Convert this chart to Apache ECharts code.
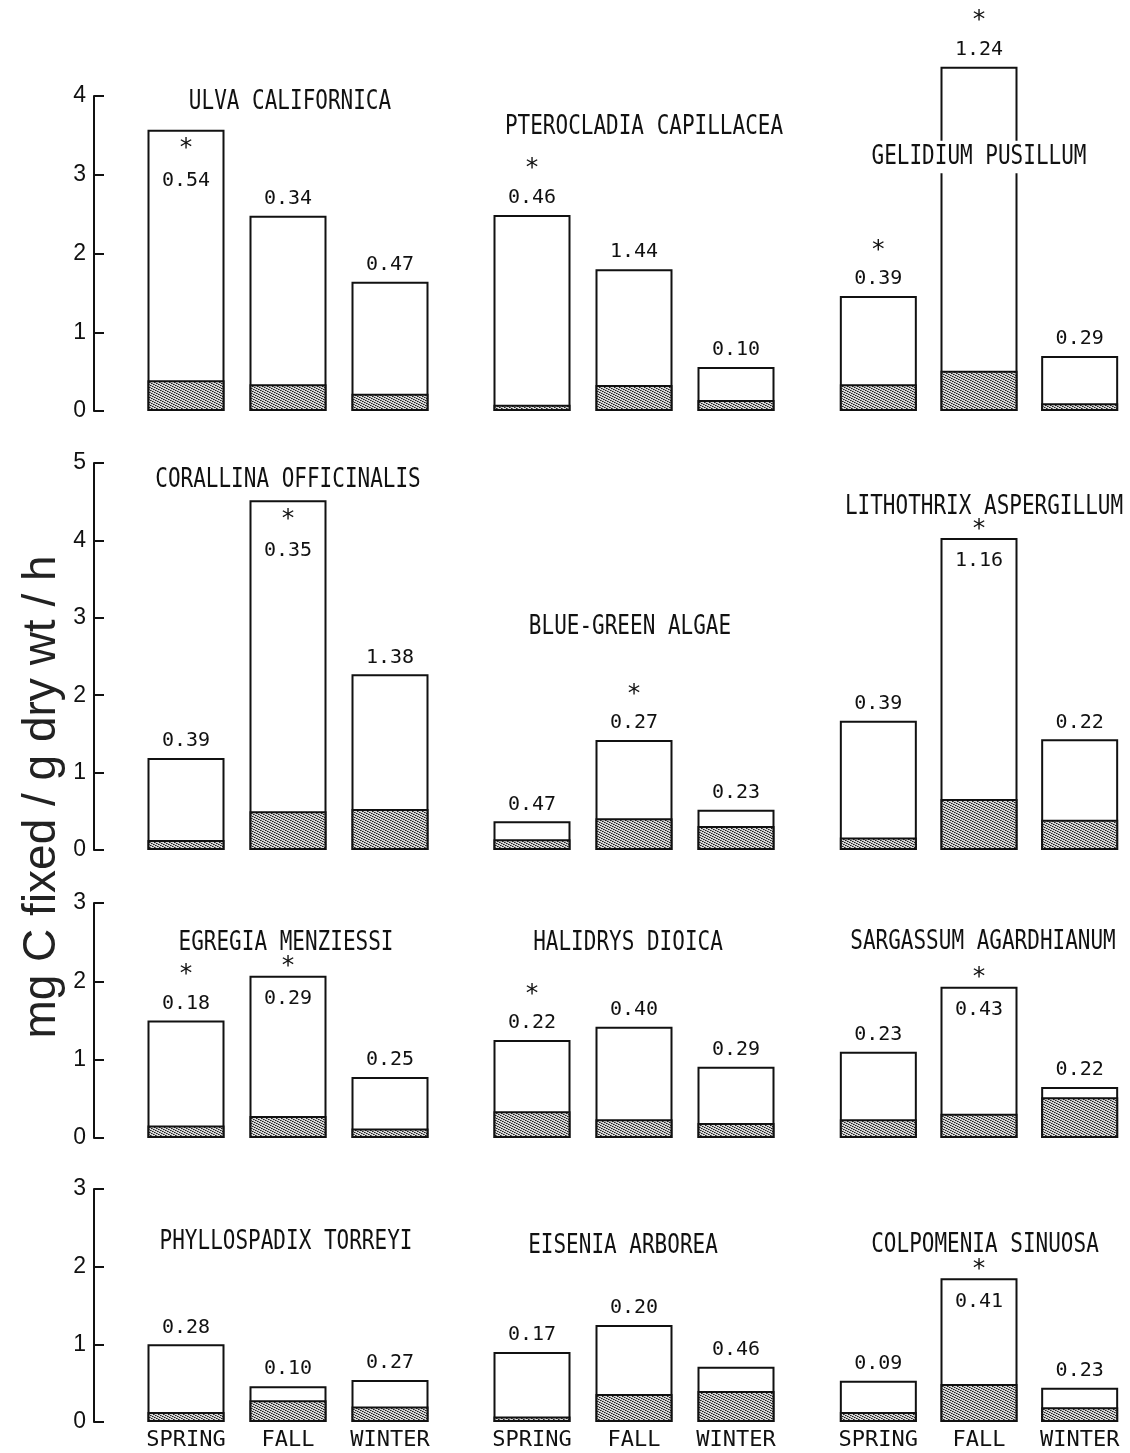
<!DOCTYPE html>
<html><head><meta charset="utf-8">
<script src="https://cdn.jsdelivr.net/npm/echarts@6/dist/echarts.min.js"></script>
<style>html,body{margin:0;padding:0;background:#fff}#c{width:1130px;height:1453px}</style>
</head><body><div id="c"></div>
<script>
// ---------- data ----------
const seasons = ['SPRING', 'FALL', 'WINTER'];
const species = ['ULVA CALIFORNICA', 'PTEROCLADIA CAPILLACEA', 'GELIDIUM PUSILLUM',
  'CORALLINA OFFICINALIS', 'BLUE-GREEN ALGAE', 'LITHOTHRIX ASPERGILLUM',
  'EGREGIA MENZIESSI', 'HALIDRYS DIOICA', 'SARGASSUM AGARDHIANUM',
  'PHYLLOSPADIX TORREYI', 'EISENIA ARBOREA', 'COLPOMENIA SINUOSA'];
const totalRate = [
  [3.57, 2.48, 1.64], [2.49, 1.80, 0.56], [1.46, 4.37, 0.70],
  [1.19, 4.52, 2.27], [0.37, 1.42, 0.52], [1.67, 4.03, 1.43],
  [1.50, 2.07, 0.78], [1.25, 1.42, 0.91], [1.10, 1.93, 0.65],
  [1.00, 0.46, 0.54], [0.90, 1.25, 0.71], [0.53, 1.85, 0.44]
];
const darkRate = [
  [0.39, 0.34, 0.22], [0.08, 0.33, 0.14], [0.34, 0.51, 0.10],
  [0.13, 0.50, 0.53], [0.14, 0.41, 0.31], [0.16, 0.66, 0.39],
  [0.16, 0.28, 0.12], [0.34, 0.24, 0.19], [0.24, 0.31, 0.52],
  [0.13, 0.28, 0.20], [0.07, 0.36, 0.40], [0.13, 0.49, 0.19]
];
const ratioLabels = [
  ['0.54', '0.34', '0.47'], ['0.46', '1.44', '0.10'], ['0.39', '1.24', '0.29'],
  ['0.39', '0.35', '1.38'], ['0.47', '0.27', '0.23'], ['0.39', '1.16', '0.22'],
  ['0.18', '0.29', '0.25'], ['0.22', '0.40', '0.29'], ['0.23', '0.43', '0.22'],
  ['0.28', '0.10', '0.27'], ['0.17', '0.20', '0.46'], ['0.09', '0.41', '0.23']
];
const significant = [
  [1, 0, 0], [1, 0, 0], [1, 1, 0],
  [0, 1, 0], [0, 1, 0], [0, 1, 0],
  [1, 1, 0], [1, 0, 0], [0, 1, 0],
  [0, 0, 0], [0, 0, 0], [0, 1, 0]
];
const rowMax = [4, 5, 3, 3];
const yTitle = 'mg C fixed / g dry wt / h';

// ---------- layout / style ----------
const rowTop = [96, 463, 903, 1189];
const rowZero = [411, 850, 1138, 1422];
const colLeft = [135, 481, 828];
const colWidth = 306;
const titlePos = [[290, 102], [644, 127], [979, 157], [288, 480], [630, 627], [984, 507],
  [286, 943], [628, 943], [983, 942], [286, 1242], [623, 1246], [985, 1245]];
const labelMode = { '0-0': 'in', '3-1': 'in', '5-1': 'str', '6-1': 'str', '8-1': 'str', '11-1': 'str' };
const INK = '#111';
const MONO = '"DejaVu Sans Mono", "Liberation Mono", monospace';
const SANS = '"Liberation Sans", Arial, sans-serif';

// stipple pattern
const tile = document.createElement('canvas');
tile.width = 5; tile.height = 5;
(function () {
  const ctx = tile.getContext('2d');
  ctx.fillStyle = '#d6d6d6'; ctx.fillRect(0, 0, 5, 5);
  ctx.fillStyle = '#222';
  [[0, 0], [2, 1], [4, 2], [1, 3], [3, 4]].forEach(p => ctx.fillRect(p[0], p[1], 1, 1));
  ctx.fillStyle = '#6a6a6a';
  [[1, 0], [3, 1], [0, 2], [2, 3], [4, 4]].forEach(p => ctx.fillRect(p[0], p[1], 1, 1));
})();
const stipple = { image: tile, repeat: 'repeat' };

function labelFor(i, j) {
  const mode = labelMode[i + '-' + j] || 'top';
  const txt = (significant[i][j] ? '{s|*}\n' : '') + '{n|' + ratioLabels[i][j] + '}';
  const rich = {
    s: { fontFamily: MONO, fontSize: 25, lineHeight: 34, color: INK },
    n: { fontFamily: MONO, fontSize: 20, lineHeight: mode === 'top' ? 24 : 30, color: INK }
  };
  const lab = { show: true, formatter: txt, rich: rich, color: INK };
  if (mode === 'top') { lab.position = 'top'; lab.distance = 5; }
  else if (mode === 'in') { lab.position = 'insideTop'; lab.distance = 2; }
  else { lab.position = 'insideTop'; lab.distance = 0; lab.offset = [0, -26]; }
  return lab;
}

const grids = [], xAxes = [], yAxes = [], series = [];
for (let i = 0; i < 12; i++) {
  const r = Math.floor(i / 3), c = i % 3;
  grids.push({ left: colLeft[c], width: colWidth, top: rowTop[r], height: rowZero[r] - rowTop[r] });
  xAxes.push({
    type: 'category', gridIndex: i, data: seasons,
    axisLine: { show: false }, axisTick: { show: false }, splitLine: { show: false },
    axisLabel: { show: r === 3, interval: 0, margin: 7, fontFamily: MONO, fontSize: 22, color: INK }
  });
  yAxes.push({
    type: 'value', gridIndex: i, min: 0, max: rowMax[r], interval: 1, show: c === 0,
    offset: 41,
    axisLine: { show: true, lineStyle: { color: INK, width: 2 } },
    axisTick: { show: true, inside: true, length: 10, lineStyle: { color: INK, width: 2 } },
    axisLabel: { margin: 8, fontFamily: SANS, fontSize: 23, color: INK },
    splitLine: { show: false }
  });
  series.push({
    type: 'bar', name: species[i] + ' total', xAxisIndex: i, yAxisIndex: i,
    barWidth: 77, barGap: '-100%', z: 2, clip: false,
    itemStyle: { color: '#fff', borderColor: INK, borderWidth: 2 },
    data: totalRate[i].map((v, j) => ({ value: v, label: labelFor(i, j) }))
  });
  series.push({
    type: 'bar', name: species[i] + ' dark', xAxisIndex: i, yAxisIndex: i,
    barWidth: 77, barGap: '-100%', z: 3, clip: false,
    itemStyle: { color: stipple, borderColor: INK, borderWidth: 2 },
    data: darkRate[i]
  });
}

const graphic = species.map((name, i) => ({
  type: 'text', x: titlePos[i][0], y: titlePos[i][1], scaleY: 1.3, z: 100,
  style: Object.assign({
    text: name, fill: INK, font: '21px ' + MONO,
    align: 'center', verticalAlign: 'middle', textAlign: 'center', textVerticalAlign: 'middle'
  }, i === 2 ? { backgroundColor: '#fff', padding: [2, 6] } : {})
}));
graphic.push({
  type: 'text', x: 42, y: 797, rotation: Math.PI / 2, z: 100,
  style: {
    text: yTitle, fill: '#222', font: '46px ' + SANS,
    align: 'center', verticalAlign: 'middle', textAlign: 'center', textVerticalAlign: 'middle'
  }
});

const chart = echarts.init(document.getElementById('c'), null, { renderer: 'canvas' });
chart.setOption({
  animation: false,
  backgroundColor: '#fff',
  grid: grids, xAxis: xAxes, yAxis: yAxes, series: series,
  graphic: graphic
});
</script>
</body></html>
